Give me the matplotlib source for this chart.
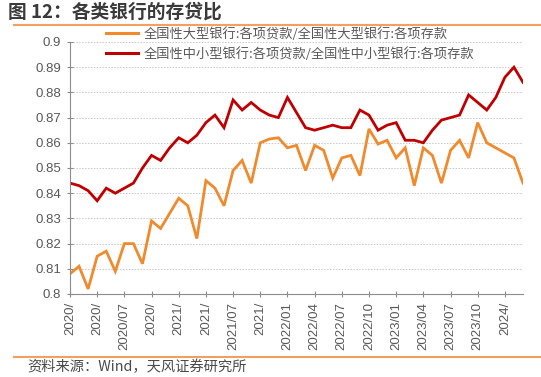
import matplotlib
matplotlib.use("Agg")
import matplotlib.pyplot as plt
from matplotlib.lines import Line2D

plt.rcParams['font.family'] = ['Liberation Sans', 'Noto Sans CJK SC', 'DejaVu Sans']

large = [0.808, 0.811, 0.802, 0.815, 0.817, 0.809, 0.820, 0.820, 0.812, 0.829,
         0.826, 0.832, 0.838, 0.835, 0.822, 0.845, 0.842, 0.835, 0.849, 0.853,
         0.844, 0.860, 0.8615, 0.862, 0.858, 0.859, 0.849, 0.859, 0.857, 0.846,
         0.854, 0.855, 0.847, 0.8655, 0.8595, 0.861, 0.854, 0.858, 0.843, 0.858,
         0.855, 0.844, 0.857, 0.861, 0.854, 0.868, 0.860, 0.858, 0.856, 0.854,
         0.844]
small = [0.844, 0.843, 0.841, 0.837, 0.842, 0.840, 0.842, 0.844, 0.850, 0.855,
         0.853, 0.858, 0.862, 0.860, 0.863, 0.868, 0.871, 0.866, 0.877, 0.873,
         0.876, 0.873, 0.871, 0.870, 0.878, 0.872, 0.866, 0.865, 0.866, 0.867,
         0.866, 0.866, 0.873, 0.871, 0.865, 0.867, 0.868, 0.861, 0.861, 0.860,
         0.865, 0.869, 0.870, 0.871, 0.879, 0.876, 0.873, 0.878, 0.886, 0.890,
         0.884]
tick_labels = ["2020/", "2020/", "2020/07", "2020/", "2021/", "2021/", "2021/07",
               "2021/", "2022/01", "2022/04", "2022/07", "2022/10", "2023/01",
               "2023/04", "2023/07", "2023/10", "2024/"]
yticks = [0.80, 0.81, 0.82, 0.83, 0.84, 0.85, 0.86, 0.87, 0.88, 0.89, 0.90]
label_large = "全国性大型银行:各项贷款/全国性大型银行:各项存款"
label_small = "全国性中小型银行:各项贷款/全国性中小型银行:各项存款"

ORANGE = "#F08A2C"
RED = "#C00000"
GRAY = "#595959"

fig = plt.figure(figsize=(5.41, 3.77), dpi=100)
ax = fig.add_axes([70/541, 1-294/377, (523-70)/541, (294-42)/377])

x = list(range(len(large)))
ax.plot(x, large, color=ORANGE, lw=2.0, solid_joinstyle='miter')
ax.plot(x, small, color=RED, lw=2.0, solid_joinstyle='miter')

ax.set_xlim(0, len(large) - 1)
ax.set_ylim(0.80, 0.90)
ax.set_yticks(yticks)
ax.set_yticklabels([f"{v:g}" for v in yticks])
ax.set_xticks(list(range(0, len(large), 3)))
ax.set_xticklabels(tick_labels, rotation=90)

for s in ['top', 'right']:
    ax.spines[s].set_visible(False)
for s in ['left', 'bottom']:
    ax.spines[s].set_color("#8c8c8c")
    ax.spines[s].set_linewidth(0.8)

ax.tick_params(axis='both', direction='inout', length=5, width=0.8,
               color="#8c8c8c", labelcolor=GRAY, labelsize=9.5)
ax.tick_params(axis='y', pad=4)
ax.tick_params(axis='x', pad=3)
ax.grid(axis='y', color="#c8c8c8", linestyle=(0, (1.5, 1.5)), linewidth=0.7)
ax.set_axisbelow(True)

handles = [Line2D([], [], color=ORANGE, lw=2.2), Line2D([], [], color=RED, lw=2.2)]
leg = ax.legend(handles, [label_large, label_small], loc='upper left',
                bbox_to_anchor=(0.06, 1.095), frameon=False,
                labelcolor=GRAY, handlelength=2.4, handletextpad=0.45,
                labelspacing=0.45, borderaxespad=0.3,
                prop={'family': ['Noto Sans CJK SC', 'DejaVu Sans'], 'size': 9.5})

fig.text(8/541, 1-12/377, "图 12：各类银行的存贷比", fontsize=13.5, fontweight='bold',
         color="#3a3a3a", va='center', ha='left',
         family=['Noto Sans CJK SC', 'DejaVu Sans'])
fig.add_artist(Line2D([14/541, 1.0], [1-25/377, 1-25/377], color="#F0A060", lw=1.5,
                      transform=fig.transFigure))
fig.add_artist(Line2D([14/541, 1.0], [1-357/377, 1-357/377], color="#F0A060", lw=1.5,
                      transform=fig.transFigure))
fig.text(27/541, 1-367/377, "资料来源：Wind，天风证券研究所", fontsize=10.3,
         color="#4a4a4a", va='center', ha='left',
         family=['Noto Sans CJK SC', 'DejaVu Sans'])

fig.savefig("out.png", dpi=100)
